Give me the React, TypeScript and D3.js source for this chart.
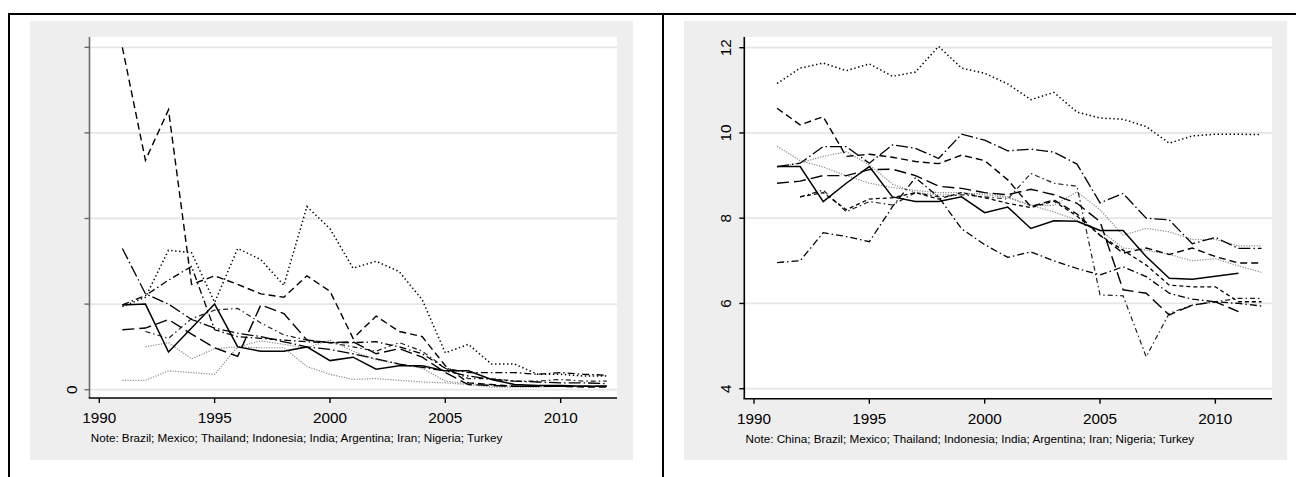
import React from "react";
import * as d3 from "d3";

// ---------- data ----------
const YEARS = [1991, 1992, 1993, 1994, 1995, 1996, 1997, 1998, 1999, 2000, 2001, 2002, 2003, 2004, 2005, 2006, 2007, 2008, 2009, 2010, 2011, 2012];
const X_TICKS = [1990, 1995, 2000, 2005, 2010];

const LEFT_Y_TICKS = [0, 1, 2, 3, 4];
const LEFT_Y_LABELS = ["0", "", "", "", ""];
const RIGHT_Y_TICKS = [4, 6, 8, 10, 12];
const RIGHT_Y_LABELS = ["4", "6", "8", "10", "12"];

const LEFT_NOTE = "Note: Brazil; Mexico; Thailand; Indonesia; India; Argentina; Iran; Nigeria; Turkey";
const RIGHT_NOTE = "Note: China; Brazil; Mexico; Thailand; Indonesia; India; Argentina; Iran; Nigeria; Turkey";

const N = null;

// left panel series (one per country)
const L_SOLID = [0.99, 1.0, 0.44, 0.72, 1.0, 0.5, 0.45, 0.45, 0.5, 0.34, 0.38, 0.24, 0.28, 0.28, 0.22, 0.22, 0.12, 0.06, 0.05, 0.05, 0.04, 0.04];
const L_DASH = [4.0, 2.68, 3.27, 1.23, 1.33, 1.23, 1.12, 1.08, 1.33, 1.15, 0.6, 0.86, 0.68, 0.62, 0.28, 0.08, 0.06, 0.04, 0.04, 0.04, 0.03, 0.03];
const L_DOT = [0.97, 1.08, 1.63, 1.6, 1.02, 1.65, 1.52, 1.22, 2.14, 1.88, 1.42, 1.5, 1.38, 1.05, 0.43, 0.53, 0.3, 0.3, 0.18, 0.18, 0.16, 0.16];
const L_LONGDASHDOT = [1.65, 1.12, 1.0, 0.82, 0.72, 0.66, 0.62, 0.56, 0.5, 0.47, 0.42, 0.36, 0.3, 0.26, 0.22, 0.16, 0.12, 0.1, 0.09, 0.08, 0.08, 0.07];
const L_DASHDOT = [0.99, 1.1, 1.28, 1.44, 0.7, 0.62, 0.6, 0.58, 0.56, 0.55, 0.55, 0.56, 0.5, 0.42, 0.25, 0.2, 0.2, 0.2, 0.18, 0.2, 0.18, 0.17];
const L_LONGDASH = [0.7, 0.72, 0.82, 0.65, 0.49, 0.39, 0.99, 0.89, 0.58, 0.55, 0.56, 0.42, 0.48, 0.38, 0.2, 0.06, 0.05, 0.04, 0.04, 0.04, 0.04, 0.04];
const L_GRAYDOT_LOW = [0.11, 0.11, 0.22, 0.2, 0.18, 0.5, 0.49, 0.49, 0.27, 0.18, 0.12, 0.13, 0.11, 0.09, 0.08, 0.06, 0.03, 0.03, 0.03, 0.04, 0.04, 0.04];
const L_GRAYDOT_HIGH = [N, 0.5, 0.55, 0.36, 0.48, 0.5, 0.57, 0.53, 0.49, 0.58, 0.45, 0.35, 0.3, 0.25, 0.1, 0.07, 0.05, 0.04, 0.04, 0.04, 0.04, 0.04];
const L_SHORTDASHDOT = [N, 0.68, 0.6, 0.83, 0.93, 0.95, 0.78, 0.64, 0.58, 0.55, 0.5, 0.45, 0.55, 0.45, 0.25, 0.13, 0.13, 0.1, 0.1, 0.12, 0.1, 0.1];

// right panel series
const R_DOT = [11.16, 11.52, 11.64, 11.46, 11.62, 11.33, 11.43, 12.03, 11.52, 11.4, 11.15, 10.78, 10.95, 10.49, 10.35, 10.32, 10.15, 9.76, 9.93, 9.97, 9.97, 9.96];
const R_DASH = [10.58, 10.19, 10.38, 9.45, 9.5, 9.43, 9.33, 9.28, 9.48, 9.35, 8.9, 8.27, 8.43, 8.1, 7.6, 7.18, 7.3, 7.15, 7.3, 7.1, 6.95, 6.95];
const R_LONGDASHDOT = [9.21, 9.29, 9.68, 9.68, 9.29, 9.72, 9.64, 9.4, 9.97, 9.83, 9.58, 9.62, 9.55, 9.27, 8.36, 8.58, 8.0, 7.96, 7.4, 7.55, 7.29, 7.29];
const R_SOLID = [9.21, 9.21, 8.39, 8.82, 9.21, 8.5, 8.39, 8.39, 8.5, 8.13, 8.26, 7.76, 7.94, 7.93, 7.71, 7.71, 7.1, 6.59, 6.57, 6.64, 6.71, N];
const R_DASHDOT_LOW = [6.96, 7.0, 7.66, 7.57, 7.45, 8.27, 8.95, 8.5, 7.75, 7.38, 7.08, 7.21, 7.0, 6.82, 6.67, 6.86, 6.63, 6.24, 6.1, 6.04, 6.0, 5.94];
const R_GRAYDOT_A = [9.69, 9.35, 9.2, 9.0, 8.82, 8.72, 8.65, 8.6, 8.6, 8.55, 8.48, 8.3, 8.15, 7.95, 7.72, 7.3, 7.25, 7.15, 7.0, 7.05, 6.88, 6.73];
const R_GRAYDOT_B = [9.2, 9.3, 9.45, 9.56, 9.25, 8.8, 8.6, 8.55, 8.55, 8.6, 8.5, 8.3, 8.3, 8.62, 8.2, 7.6, 7.76, 7.68, 7.5, 7.5, 7.35, 7.35];
const R_LONGDASH = [8.82, 8.87, 9.0, 9.0, 9.14, 9.15, 9.0, 8.75, 8.7, 8.6, 8.55, 8.68, 8.55, 8.35, 7.92, 6.32, 6.24, 5.73, 5.96, 6.04, 5.81, N];
const R_SHORTDASHDOT = [N, 8.5, 8.66, 8.15, 8.39, 8.31, 8.6, 8.5, 8.55, 8.5, 8.45, 9.05, 8.82, 8.75, 6.2, 6.18, 4.75, 5.77, 5.96, 6.04, 6.12, 6.12];
const R_SHORTDASH = [N, 8.5, 8.6, 8.2, 8.45, 8.48, 8.6, 8.45, 8.6, 8.48, 8.35, 8.25, 8.4, 8.05, 7.6, 7.25, 6.9, 6.43, 6.39, 6.39, 6.04, 6.04];

// ---------- styles ----------
type Style = { dash: string; color: string; width: number };
const ST: Record<string, Style> = {
  solid: { dash: "none", color: "#000", width: 1.5 },
  dash: { dash: "7,4", color: "#000", width: 1.4 },
  longdash: { dash: "12,5", color: "#000", width: 1.4 },
  dot: { dash: "1.4,2.6", color: "#000", width: 1.5 },
  graydot: { dash: "1.2,1.4", color: "#8a8a8a", width: 1.2 },
  dashdot: { dash: "7,3,1.5,3", color: "#000", width: 1.3 },
  longdashdot: { dash: "12,3,1.5,3", color: "#000", width: 1.3 },
  shortdash: { dash: "4,3", color: "#000", width: 1.3 },
  shortdashdot: { dash: "5,3,1.5,3", color: "#222", width: 1.2 },
};

const LEFT_SERIES: [(number | null)[], string][] = [
  [L_GRAYDOT_LOW, "graydot"],
  [L_GRAYDOT_HIGH, "graydot"],
  [L_SHORTDASHDOT, "shortdashdot"],
  [L_LONGDASHDOT, "longdashdot"],
  [L_DASHDOT, "dashdot"],
  [L_LONGDASH, "longdash"],
  [L_DOT, "dot"],
  [L_DASH, "dash"],
  [L_SOLID, "solid"],
];
const RIGHT_SERIES: [(number | null)[], string][] = [
  [R_GRAYDOT_A, "graydot"],
  [R_GRAYDOT_B, "graydot"],
  [R_SHORTDASHDOT, "shortdashdot"],
  [R_SHORTDASH, "shortdash"],
  [R_DASHDOT_LOW, "dashdot"],
  [R_LONGDASHDOT, "longdashdot"],
  [R_LONGDASH, "longdash"],
  [R_DASH, "dash"],
  [R_DOT, "dot"],
  [R_SOLID, "solid"],
];

const FONT = "'Liberation Sans', Arial, Helvetica, sans-serif";

type PanelCfg = {
  gray: [number, number, number, number];
  plot: [number, number, number, number];
  xRange: [number, number];
  yDomain: [number, number];
  yRange: [number, number];
  yTicks: number[];
  yLabels: string[];
  yAxisColor: string;
  note: string;
  series: [(number | null)[], string][];
};

function Panel({ cfg }: { cfg: PanelCfg }) {
  const [gx0, gy0, gx1, gy1] = cfg.gray;
  const [px0, py0, px1, py1] = cfg.plot;
  const x = d3.scaleLinear().domain([1990, 2012]).range(cfg.xRange);
  const y = d3.scaleLinear().domain(cfg.yDomain).range(cfg.yRange);
  const line = d3
    .line<number | null>()
    .defined((d) => d !== null)
    .x((_, i) => x(YEARS[i]))
    .y((d) => y(d as number));
  return (
    <g>
      <rect x={gx0} y={gy0} width={gx1 - gx0} height={gy1 - gy0} fill="#eeeeee" />
      <rect x={px0} y={py0} width={px1 - px0} height={py1 - py0} fill="#ffffff" />
      {cfg.yTicks.map((t) => (
        <line key={"g" + t} x1={px0} x2={px1} y1={y(t)} y2={y(t)} stroke="#e6e6e6" strokeWidth={1.8} />
      ))}
      {cfg.series.map(([vals, s], i) => {
        const st = ST[s];
        return (
          <path
            key={i}
            d={line(vals) || ""}
            fill="none"
            stroke={st.color}
            strokeWidth={st.width}
            strokeDasharray={st.dash}
            strokeLinejoin="miter"
          />
        );
      })}
      {/* y axis */}
      <line x1={px0} x2={px0} y1={py0} y2={py1} stroke={cfg.yAxisColor} strokeWidth={1.6} />
      {cfg.yTicks.map((t, i) => (
        <g key={"yt" + t}>
          <line x1={px0 - 5} x2={px0} y1={y(t)} y2={y(t)} stroke={cfg.yAxisColor} strokeWidth={1.4} />
          <text
            transform={`translate(${px0 - 13},${y(t)}) rotate(-90)`}
            textAnchor="middle"
            fontFamily={FONT}
            fontSize={15.3}
            fill="#000"
          >
            {cfg.yLabels[i]}
          </text>
        </g>
      ))}
      {/* x axis */}
      <line x1={px0 - 0.8} x2={px1} y1={py1} y2={py1} stroke="#000" strokeWidth={1.6} />
      {X_TICKS.map((t) => (
        <g key={"xt" + t}>
          <line x1={x(t)} x2={x(t)} y1={py1} y2={py1 + 5} stroke="#000" strokeWidth={1.4} />
          <text x={x(t)} y={py1 + 25.2} textAnchor="middle" fontFamily={FONT} fontSize={15.3} fill="#000">
            {t}
          </text>
        </g>
      ))}
      <text x={px0 + 1.2} y={py1 + 44.2} fontFamily={FONT} fontSize={11.7} fill="#000">
        {cfg.note}
      </text>
    </g>
  );
}

const LEFT_CFG: PanelCfg = {
  gray: [30, 21, 633, 460],
  plot: [89.5, 37, 617, 398],
  xRange: [99.3, 606.8],
  yDomain: [0, 4],
  yRange: [389.7, 47.3],
  yTicks: LEFT_Y_TICKS,
  yLabels: LEFT_Y_LABELS,
  yAxisColor: "#6a6a6a",
  note: LEFT_NOTE,
  series: LEFT_SERIES,
};

const RIGHT_CFG: PanelCfg = {
  gray: [684, 21, 1287, 460],
  plot: [744.3, 37, 1272, 398.7],
  xRange: [754, 1261.5],
  yDomain: [4, 12],
  yRange: [388.7, 47.7],
  yTicks: RIGHT_Y_TICKS,
  yLabels: RIGHT_Y_LABELS,
  yAxisColor: "#000",
  note: RIGHT_NOTE,
  series: RIGHT_SERIES,
};

export default function App() {
  return (
    <svg
      width={1296}
      height={477}
      style={{ position: "absolute", left: 0, top: 0, display: "block", background: "#fff" }}
    >
      <rect x={0} y={0} width={1296} height={477} fill="#fff" />
      <Panel cfg={LEFT_CFG} />
      <Panel cfg={RIGHT_CFG} />
      {/* table frame */}
      <line x1={8} x2={1296} y1={14} y2={14} stroke="#000" strokeWidth={2} />
      <line x1={9} x2={9} y1={13} y2={477} stroke="#000" strokeWidth={2} />
      <line x1={663} x2={663} y1={13} y2={477} stroke="#000" strokeWidth={2} />
    </svg>
  );
}
